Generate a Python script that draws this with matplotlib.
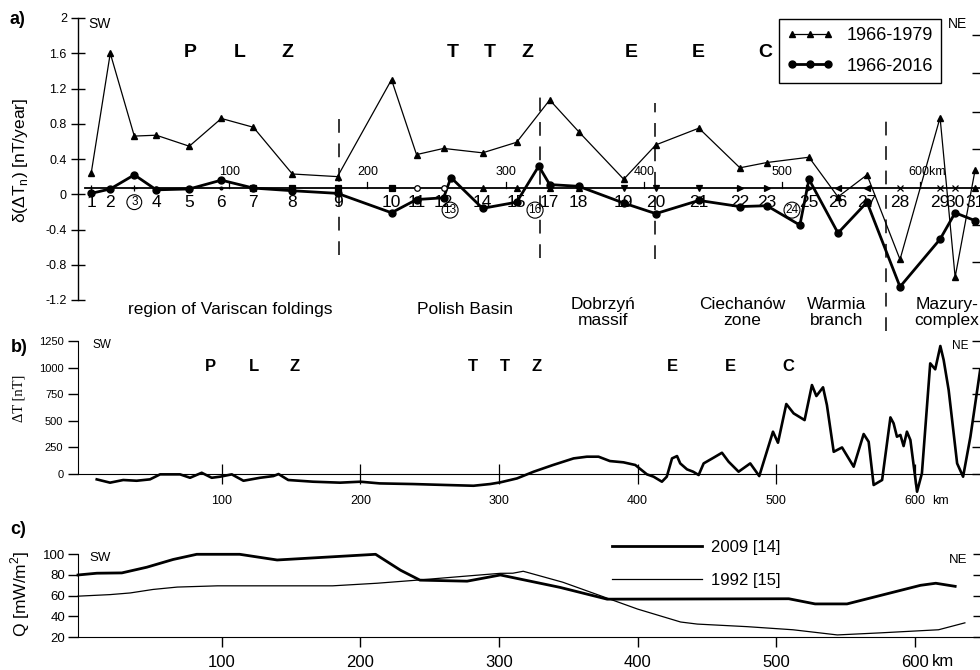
import numpy as np
import matplotlib
matplotlib.use("Agg")
import matplotlib.pyplot as plt

plt.rcParams['font.family'] = ['Liberation Sans', 'DejaVu Sans']
plt.rcParams['mathtext.fontset'] = 'custom'
plt.rcParams['mathtext.rm'] = 'Liberation Sans'

# ---- panel a: station profile ----
stations = list(range(1, 32))
station_km = [0, 13.8, 31.2, 47.1, 71, 94.2, 117.4, 145.6, 178.3, 217.4, 235.5,
              255.1, 260.4, 283.3, 308, 324, 331.9, 352.9, 385.5, 408.7, 439.9,
              469.6, 489.1, 513, 519.6, 540.6, 561.6, 585.5, 614.5, 625.4, 639.9]
rate_1979 = [0.24, 1.60, 0.66, 0.67, 0.545, 0.86, 0.76, 0.23, 0.20, 1.30, 0.45,
             0.52, np.nan, 0.47, 0.59, np.nan, 1.07, 0.71, 0.17, 0.56, 0.75,
             0.30, 0.36, np.nan, 0.42, -0.03, 0.22, -0.74, 0.87, -0.94, 0.28]
rate_2016 = [0.01, 0.06, 0.22, 0.05, 0.06, 0.16, 0.07, 0.04, 0.01, -0.21, -0.06,
             -0.04, 0.19, -0.16, -0.09, 0.32, 0.11, 0.09, -0.10, -0.22, -0.07,
             -0.14, -0.13, -0.35, 0.17, -0.44, -0.09, -1.05, -0.51, -0.21, -0.30]
station_marker = ['|', '.', '+', '.', '.', '.', 's', 's', 's', 's', 'o', 'o', '',
                  '^', '^', '', '^', '^', 'v', 'v', 'v', '>', '>', '', '>', '<',
                  '<', 'x', 'x', 'x', '^']
circled = {3: 31.2, 13: 259.8, 16: 321.3, 24: 507.3}
km_ticks = [100, 200, 300, 400, 500, 600]
boundaries_km = [179.7, 324.6, 408, 575.4]
boundaries_top = [0.86, 1.125, 1.03, 0.92]
boundaries_bot = [-0.69, -0.72, -0.73, -1.55]
regions = ["region of Variscan foldings", "Polish Basin", "Dobrzyń\nmassif",
           "Ciechanów\nzone", "Warmia\nbranch", "Mazury-\ncomplex"]
regions_km = [100.5, 270.6, 370.5, 471, 539.9, 619.5]
ttz_letters = ['P', 'L', 'Z', 'T', 'T', 'Z', 'E', 'E', 'C']
ttz_km_a = [71.5, 107.8, 141.8, 261.9, 288.7, 315.5, 390.8, 439.3, 487.8]
ttz_km_b = [91.6, 123.3, 152.9, 281.3, 304.3, 327.4, 424.8, 466.6, 508.4]
yticks_a = [2, 1.6, 1.2, 0.8, 0.4, 0, -0.4, -0.8, -1.2]
yticks_a_right = [1.81, 1.375, 0.93, 0.51, -0.35, -0.77]

# ---- panel b: magnetic anomaly along profile ----
dt_km = [9.9, 19.5, 29, 38.7, 48.3, 55.6, 70, 77.2, 85.6, 92.8, 98.8, 107.3, 115.7,
         127.7, 137.3, 141, 148, 166, 185.4, 200, 214, 238, 262, 281.6, 293.6, 301,
         313, 325, 339, 353.8, 363.4, 371.8, 380, 389.8, 398.3, 406.7, 411.5, 417.5,
         421, 424.8, 428.4, 430.7, 435.6, 440, 444, 447.6, 454.8, 460.8, 465.6,
         472.8, 481.2, 487.7, 497.6, 501.2, 507.2, 512.5, 520.4, 525.7, 528.9,
         533.7, 536.5, 541.4, 547.4, 555.8, 563, 566.6, 570.2, 576.3, 582.3, 584.6,
         587, 589.5, 591.8, 594.2, 596.7, 601.5, 605, 611, 614.6, 618.3, 620.7,
         624.3, 630.4, 634.7, 640, 647]
dt_val = [-50, -81, -56, -63, -50, -3, -3, -35, 12, -35, -25, -3, -63, -35, -19, 0,
          -56, -72, -81, -72, -88, -94, -103, -110, -94, -78, -41, 22, 85, 147, 163,
          163, 122, 110, 85, -3, -25, -72, -25, 147, 169, 100, 44, 22, -9, 100, 154,
          200, 116, 22, 100, -19, 398, 294, 658, 570, 507, 836, 733, 815, 648, 209,
          250, 69, 376, 303, -103, -56, 532, 476, 351, 367, 263, 398, 320, -166, 6,
          1040, 984, 1203, 1071, 789, 100, -25, 351, 977]

# ---- panel c: heat flow ----
q09_km = [-3.6, 10, 28, 46, 65, 82, 113, 140, 211, 229, 243, 277, 301, 344, 378,
          509, 528, 551, 604, 615, 629]
q09 = [80, 81.7, 82, 87.5, 95, 100, 100, 94.5, 100, 84.6, 75, 74, 80, 68, 56.6,
       57, 52, 52, 70, 72, 69]
q92_km = [-3.6, 19.5, 34, 50.5, 68, 97, 133, 180, 212, 241, 277, 301, 310, 317.5,
          346, 378, 400, 431, 443, 479, 512, 544, 575, 617, 636]
q92 = [59.5, 61, 62.6, 66, 68.3, 69.5, 69.5, 69.5, 72, 75, 79, 81.6, 81.7, 83.6,
       73, 57.6, 47, 34.5, 32.5, 30, 27, 22, 24, 27, 33.7]
xticks_bc = [100, 200, 300, 400, 500, 600]

W, H = 980, 670
fig = plt.figure(figsize=(9.8, 6.7), dpi=100)


def box(left, top, right, bottom):
    return [left / W, 1 - bottom / H, (right - left) / W, (bottom - top) / H]


# ================= a) =================
ax = fig.add_axes(box(78, 18, 980, 300))
ax.set_xlim(-9.56, 643.4)
ax.set_ylim(-1.2, 2)
for s in ['top', 'right', 'bottom']:
    ax.spines[s].set_visible(False)
ax.spines['left'].set_linewidth(1.0)
ax.set_xticks([])
ax.set_yticks(yticks_a, [f"{v:g}" for v in yticks_a])
ax.tick_params(axis='y', direction='inout', length=10, width=1, labelsize=9, pad=3)

base = 0.072
ax.plot([-4.5, 650], [base, base], color='black', lw=1.3, zorder=2)
for k, m in zip(station_km, station_marker):
    if m:
        ax.plot(k, base, marker=m, color='black', ms=4,
                mfc='white' if m == 'o' else 'black', mew=0.9, zorder=3)
for k in km_ticks:
    ax.plot([k, k], [base, base + 0.07], color='black', lw=0.9)
    if k < 600:
        ax.text(k, 0.255, str(k), ha='center', va='center', fontsize=9)
ax.text(591.3, 0.255, "600km", ha='left', va='center', fontsize=9)

x79 = [k for k, v in zip(station_km, rate_1979) if not np.isnan(v)]
y79 = [v for v in rate_1979 if not np.isnan(v)]
l1, = ax.plot(x79, y79, color='black', lw=0.9, marker='^', ms=4, label='1966-1979')
l2, = ax.plot(station_km, rate_2016, color='black', lw=2.0, marker='o', ms=5,
              label='1966-2016')

for st, k in zip(stations, station_km):
    if st in circled:
        yy = -0.09 if st == 3 else -0.18
        ax.text(circled[st], yy, str(st), ha='center', va='center', fontsize=8.5,
                zorder=1, bbox=dict(boxstyle='circle,pad=0.12', fc='none', ec='black', lw=0.8))
    else:
        ax.text(k, -0.09, str(st), ha='center', va='center', fontsize=12.5, zorder=1)

ax.vlines(boundaries_km, boundaries_bot, boundaries_top, colors='black', lw=1.1,
          linestyles=(0, (9, 7)), clip_on=False)

for name, k in zip(regions, regions_km):
    yy = -1.31 if '\n' not in name else -1.34
    ax.text(k, yy, name, ha='center', va='center', fontsize=12.5, linespacing=1.05,
            clip_on=False)
for letter, k in zip(ttz_letters, ttz_km_a):
    ax.text(k, 1.61, letter, ha='center', va='center', fontsize=14, fontweight='bold')

ax.text(-2.3, 1.93, "SW", ha='left', va='center', fontsize=10)
ax.text(620.2, 1.93, "NE", ha='left', va='center', fontsize=10)

axr = ax.twinx()
axr.set_ylim(-1.2, 2)
for s in axr.spines.values():
    s.set_visible(False)
axr.set_yticks(yticks_a_right, [''] * len(yticks_a_right))
axr.tick_params(axis='y', direction='in', length=6, width=1)

leg = ax.legend(handles=[l1, l2], loc='upper right', bbox_to_anchor=(941 / W, 1 - 19 / H),
                bbox_transform=fig.transFigure, fontsize=13, frameon=True, fancybox=False,
                edgecolor='black', framealpha=1, borderaxespad=0, handlelength=2.6,
                handletextpad=0.7, numpoints=3, labelspacing=0.75, borderpad=0.45)
leg.get_frame().set_linewidth(1.0)

fig.text(10 / W, 1 - 20 / H, "a)", ha='left', va='center', fontsize=13, fontweight='bold')
fig.text(21 / W, 1 - 160 / H, r"δ(ΔT$_\mathregular{n}$) [nT/year]", rotation=90,
         ha='center', va='center', fontsize=12.5)

# ================= b) =================
bx = fig.add_axes(box(78, 341, 980, 493.2))
bx.set_xlim(-3.61, 646.9)
bx.set_ylim(-180, 1250)
bx.spines['top'].set_visible(False)
bx.spines['right'].set_visible(False)
bx.spines['bottom'].set_position(('data', 0))
bx.spines['left'].set_bounds(0, 1250)
bx.plot(dt_km, dt_val, color='black', lw=1.9)
bx.set_xticks(xticks_bc, [str(v) for v in xticks_bc])
bx.tick_params(axis='x', direction='inout', length=14, width=0.9, labelsize=9, pad=8)
bx.set_yticks([0, 250, 500, 750, 1000, 1250])
bx.tick_params(axis='y', direction='out', length=7, width=1, labelsize=8)
for letter, k in zip(ttz_letters, ttz_km_b):
    bx.text(k, 1006, letter, ha='center', va='center', fontsize=12, fontweight='bold')
bx.text(6.5, 1208, "SW", ha='left', va='center', fontsize=8.5)
bx.text(626.7, 1203, "NE", ha='left', va='center', fontsize=8.5)
bxr = bx.twinx()
bxr.set_ylim(-180, 1250)
for s in bxr.spines.values():
    s.set_visible(False)
bxr.set_yticks([0, 250, 500, 750, 1000, 1250], [''] * 6)
bxr.tick_params(axis='y', direction='in', length=6, width=1)
fig.text(932 / W, 1 - 501 / H, "km", ha='left', va='center', fontsize=9)
fig.text(11 / W, 1 - 348 / H, "b)", ha='left', va='center', fontsize=13, fontweight='bold')
fig.text(19 / W, 1 - 398 / H, "ΔT [nT]", rotation=90, ha='center', va='center',
         fontsize=10.5, family=['Liberation Serif', 'DejaVu Serif'])

# ================= c) =================
cx = fig.add_axes(box(78, 554.3, 980, 637))
cx.set_xlim(-3.61, 646.9)
cx.set_ylim(20, 100)
cx.spines['top'].set_visible(False)
cx.spines['right'].set_visible(False)
c1, = cx.plot(q09_km, q09, color='black', lw=2.0, clip_on=False, label='2009 [14]')
c2, = cx.plot(q92_km, q92, color='black', lw=0.9, clip_on=False, label='1992 [15]')
cx.set_xticks(xticks_bc, [str(v) for v in xticks_bc])
cx.tick_params(axis='x', direction='out', length=7, width=1, labelsize=12, pad=6)
cx.set_yticks([20, 40, 60, 80, 100])
cx.tick_params(axis='y', direction='out', length=7, width=1, labelsize=9.5, pad=2)
cx.text(4.3, 96.6, "SW", ha='left', va='center', fontsize=9.5)
cx.text(624.5, 94.7, "NE", ha='left', va='center', fontsize=9.5)
cxr = cx.twinx()
cxr.set_ylim(20, 100)
for s in cxr.spines.values():
    s.set_visible(False)
cxr.set_yticks([20, 40, 60, 80, 100], [''] * 5)
cxr.tick_params(axis='y', direction='in', length=5, width=1)
cx.legend(handles=[c1, c2], loc='upper left', bbox_to_anchor=(612 / W, 1 - 540 / H),
          bbox_transform=fig.transFigure, frameon=False, borderpad=0, borderaxespad=0,
          handlelength=5.4, handletextpad=0.55, labelspacing=1.05, fontsize=12)
fig.text(932 / W, 1 - 662 / H, "km", ha='left', va='center', fontsize=12)
fig.text(10 / W, 1 - 529 / H, "c)", ha='left', va='center', fontsize=13, fontweight='bold')
fig.text(20 / W, 1 - 594 / H, r"Q [mW/m$^\mathregular{2}$]", rotation=90, ha='center',
         va='center', fontsize=12.5)

fig.savefig("out.png", dpi=100)
